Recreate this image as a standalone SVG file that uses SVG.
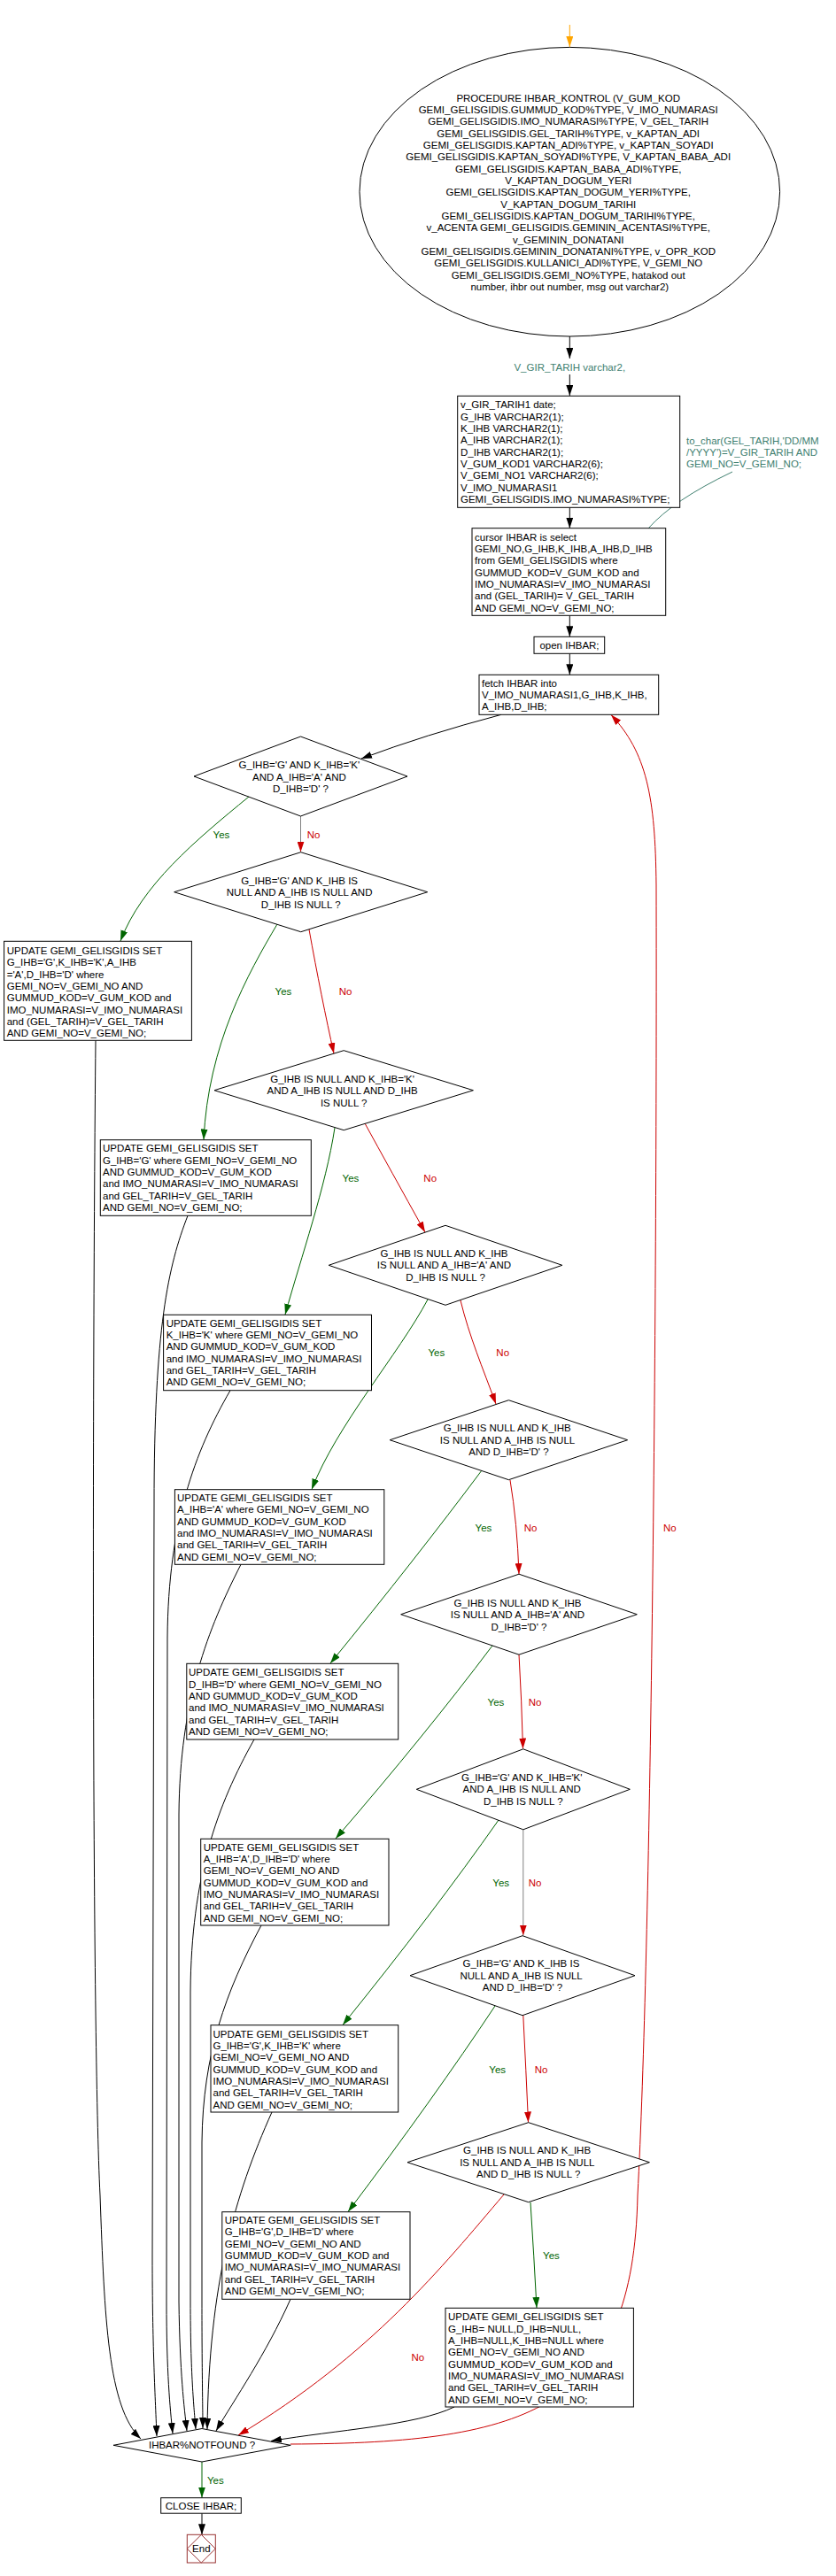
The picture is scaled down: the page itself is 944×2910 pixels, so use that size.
<svg xmlns="http://www.w3.org/2000/svg" width="944" height="2910" viewBox="0 0 944 2910">
<style>
.t{font-family:"Liberation Sans",Arial,sans-serif;font-size:11.5px;fill:#000}
.c{text-anchor:middle}
.tl{fill:#408070}
.box{fill:#fff;stroke:#000;stroke-width:1}
.k{fill:none;stroke:#000;stroke-width:1}
.g{fill:none;stroke:#006400;stroke-width:1}
.r{fill:none;stroke:#CC0000;stroke-width:1}
.gy{fill:none;stroke:#808080;stroke-width:1}
.tm{fill:none;stroke:#408070;stroke-width:1}
.lg{fill:#006400}
.lr{fill:#CC0000}
</style>
<defs>
<marker id="ak" viewBox="0 0 12 8" refX="12" refY="4" markerWidth="12" markerHeight="8" markerUnits="userSpaceOnUse" orient="auto"><path d="M0,0L12,4L0,8z" fill="#000"/></marker>
<marker id="ag" viewBox="0 0 12 8" refX="12" refY="4" markerWidth="12" markerHeight="8" markerUnits="userSpaceOnUse" orient="auto"><path d="M0,0L12,4L0,8z" fill="#006400"/></marker>
<marker id="ar" viewBox="0 0 12 8" refX="12" refY="4" markerWidth="12" markerHeight="8" markerUnits="userSpaceOnUse" orient="auto"><path d="M0,0L12,4L0,8z" fill="#CC0000"/></marker>
<marker id="ao" viewBox="0 0 12 8" refX="12" refY="4" markerWidth="12" markerHeight="8" markerUnits="userSpaceOnUse" orient="auto"><path d="M0,0L12,4L0,8z" fill="#FFA500"/></marker>
</defs>
<rect width="944" height="2910" fill="#fff"/>

<g id="connectors">
<path d="M643.3,28 L643.3,53" fill="none" stroke="#FFA500" marker-end="url(#ao)"/>
<path class="k" d="M643.3,380 L643.3,405" marker-end="url(#ak)"/>
<path class="k" d="M643.3,423 L643.3,447" marker-end="url(#ak)"/>
<path class="k" d="M643.3,573.3 L643.3,596.7" marker-end="url(#ak)"/>
<path class="tm" d="M827,533 Q760,565 732,597"/>
<path class="k" d="M643.3,695.3 L643.3,719.3" marker-end="url(#ak)"/>
<path class="k" d="M643.3,738.3 L643.3,762.3" marker-end="url(#ak)"/>
<path class="k" d="M566,807.3 Q480,830 408,857" marker-end="url(#ak)"/>

<path class="g" d="M281,900 C220,950 160,1000 136,1063" marker-end="url(#ag)"/>
<path class="gy" d="M339.5,922 L339.5,962.5" marker-end="url(#ar)"/>
<path class="g" d="M313,1044 C280,1100 235,1180 230,1287.5" marker-end="url(#ag)"/>
<path class="r" d="M349,1050 C358,1100 368,1150 377,1190" marker-end="url(#ar)"/>
<path class="g" d="M378,1274 C368,1340 340,1420 322,1485" marker-end="url(#ag)"/>
<path class="r" d="M412,1269 Q440,1320 480,1392" marker-end="url(#ar)"/>
<path class="g" d="M483,1468 C450,1530 380,1610 352,1682.5" marker-end="url(#ag)"/>
<path class="r" d="M520,1469 C530,1510 545,1545 560,1586" marker-end="url(#ar)"/>
<path class="g" d="M544,1661 Q470,1760 373,1879" marker-end="url(#ag)"/>
<path class="r" d="M576,1672 Q584,1720 586,1778" marker-end="url(#ar)"/>
<path class="g" d="M556,1859 Q480,1960 379,2077" marker-end="url(#ag)"/>
<path class="r" d="M586,1869 Q589,1920 590.5,1975.5" marker-end="url(#ar)"/>
<path class="g" d="M563,2056 Q490,2160 387,2287.5" marker-end="url(#ag)"/>
<path class="gy" d="M590.8,2067 L590.8,2186.5" marker-end="url(#ar)"/>
<path class="g" d="M559,2266 Q490,2370 393,2498.5" marker-end="url(#ag)"/>
<path class="r" d="M590.8,2277 Q594,2340 596.5,2397.5" marker-end="url(#ar)"/>
<path class="g" d="M599,2488 Q603,2550 606,2607" marker-end="url(#ag)"/>
<path class="r" d="M569,2479 C500,2560 420,2660 269,2751" marker-end="url(#ar)"/>

<path class="k" d="M108,1175.3 C104,1600 104,2300 113,2480 C118,2620 122,2720 159,2755" marker-end="url(#ak)"/>
<path class="k" d="M212,1373.3 C190,1430 174,1500 174,1700 L172,2550 C172,2650 175,2700 177,2752" marker-end="url(#ak)"/>
<path class="k" d="M260,1570.7 C220,1640 190,1720 189,1850 L188,2600 C188,2680 192,2720 195,2749" marker-end="url(#ak)"/>
<path class="k" d="M272,1767.3 C235,1840 203,1920 202,2050 L202,2600 C203,2680 208,2720 211,2746" marker-end="url(#ak)"/>
<path class="k" d="M287,1965 C245,2040 216,2120 215,2250 L215,2600 C215,2680 219,2720 221,2744" marker-end="url(#ak)"/>
<path class="k" d="M295,2175 C255,2250 229,2320 228,2420 L228,2600 C228,2680 229,2720 229,2743" marker-end="url(#ak)"/>
<path class="k" d="M307,2386 C265,2480 236,2580 234,2744" marker-end="url(#ak)"/>
<path class="k" d="M328,2597.3 C300,2660 265,2710 244,2746" marker-end="url(#ak)"/>
<path class="k" d="M513,2719 C470,2740 380,2745 306,2757.5" marker-end="url(#ak)"/>
<path class="r" d="M328,2761 C600,2760 715,2720 720,2480 C735,2200 742,1500 741,1000 C740,900 730,850 690,807.5" marker-end="url(#ar)"/>
<path class="g" d="M228,2781 L228,2821.5" marker-end="url(#ag)"/>
<path class="k" d="M228,2839.2 L228,2863.3" marker-end="url(#ak)"/>

<text class="t lg c" x="250" y="946.7">Yes</text>
<text class="t lr c" x="354" y="946.7">No</text>
<text class="t lg c" x="320" y="1124">Yes</text>
<text class="t lr c" x="390" y="1124">No</text>
<text class="t lg c" x="396" y="1334.7">Yes</text>
<text class="t lr c" x="485.7" y="1334.7">No</text>
<text class="t lg c" x="492.8" y="1531.7">Yes</text>
<text class="t lr c" x="567.7" y="1531.7">No</text>
<text class="t lg c" x="546" y="1730">Yes</text>
<text class="t lr c" x="599" y="1730">No</text>
<text class="t lr c" x="756.4" y="1730">No</text>
<text class="t lg c" x="560" y="1926.7">Yes</text>
<text class="t lr c" x="604" y="1926.7">No</text>
<text class="t lg c" x="565.7" y="2130.7">Yes</text>
<text class="t lr c" x="604" y="2130.7">No</text>
<text class="t lg c" x="561.7" y="2341.7">Yes</text>
<text class="t lr c" x="611" y="2341.7">No</text>
<text class="t lg c" x="622.5" y="2551.7">Yes</text>
<text class="t lr c" x="471.8" y="2667.3">No</text>
<text class="t lg c" x="243.3" y="2805.7">Yes</text>
</g>

<g id="start">
<ellipse class="box" cx="643.3" cy="216.7" rx="237.3" ry="163.3"/>
<text class="t c" y="114.7">
<tspan x="643.3">PROCEDURE IHBAR_KONTROL (V_GUM_KOD</tspan>
<tspan x="643.3" dy="13.33">GEMI_GELISGIDIS.GUMMUD_KOD%TYPE, V_IMO_NUMARASI</tspan>
<tspan x="643.3" dy="13.33">GEMI_GELISGIDIS.IMO_NUMARASI%TYPE, V_GEL_TARIH</tspan>
<tspan x="643.3" dy="13.33">GEMI_GELISGIDIS.GEL_TARIH%TYPE, v_KAPTAN_ADI</tspan>
<tspan x="643.3" dy="13.33">GEMI_GELISGIDIS.KAPTAN_ADI%TYPE, v_KAPTAN_SOYADI</tspan>
<tspan x="643.3" dy="13.33">GEMI_GELISGIDIS.KAPTAN_SOYADI%TYPE, V_KAPTAN_BABA_ADI</tspan>
<tspan x="643.3" dy="13.33">GEMI_GELISGIDIS.KAPTAN_BABA_ADI%TYPE,</tspan>
<tspan x="643.3" dy="13.33">V_KAPTAN_DOGUM_YERI</tspan>
<tspan x="643.3" dy="13.33">GEMI_GELISGIDIS.KAPTAN_DOGUM_YERI%TYPE,</tspan>
<tspan x="643.3" dy="13.33">V_KAPTAN_DOGUM_TARIHI</tspan>
<tspan x="643.3" dy="13.33">GEMI_GELISGIDIS.KAPTAN_DOGUM_TARIHI%TYPE,</tspan>
<tspan x="643.3" dy="13.33">v_ACENTA GEMI_GELISGIDIS.GEMININ_ACENTASI%TYPE,</tspan>
<tspan x="643.3" dy="13.33">v_GEMININ_DONATANI</tspan>
<tspan x="643.3" dy="13.33">GEMI_GELISGIDIS.GEMININ_DONATANI%TYPE, v_OPR_KOD</tspan>
<tspan x="643.3" dy="13.33">GEMI_GELISGIDIS.KULLANICI_ADI%TYPE, V_GEMI_NO</tspan>
<tspan x="643.3" dy="13.33">GEMI_GELISGIDIS.GEMI_NO%TYPE, hatakod  out</tspan>
<tspan x="643.3" dy="13.33">number, ihbr  out number, msg out varchar2)</tspan>
</text>
</g>

<g id="label-gir-tarih">
<text class="t tl c" x="643.3" y="419">V_GIR_TARIH varchar2,</text>
</g>

<g id="declare">
<rect class="box" x="516.7" y="447.3" width="251" height="126"/>
<text class="t" y="461.3">
<tspan x="520">v_GIR_TARIH1 date;</tspan>
<tspan x="520" dy="13.33">G_IHB VARCHAR2(1);</tspan>
<tspan x="520" dy="13.33">K_IHB VARCHAR2(1);</tspan>
<tspan x="520" dy="13.33">A_IHB VARCHAR2(1);</tspan>
<tspan x="520" dy="13.33">D_IHB VARCHAR2(1);</tspan>
<tspan x="520" dy="13.33">V_GUM_KOD1 VARCHAR2(6);</tspan>
<tspan x="520" dy="13.33">V_GEMI_NO1 VARCHAR2(6);</tspan>
<tspan x="520" dy="13.33">V_IMO_NUMARASI1</tspan>
<tspan x="520" dy="13.33">GEMI_GELISGIDIS.IMO_NUMARASI%TYPE;</tspan>
</text>
</g>

<g id="comment">
<text class="t tl" y="501.7">
<tspan x="775">to_char(GEL_TARIH,'DD/MM</tspan>
<tspan x="775" dy="13.33">/YYYY')=V_GIR_TARIH AND</tspan>
<tspan x="775" dy="13.33">GEMI_NO=V_GEMI_NO;</tspan>
</text>
</g>

<g id="cursor">
<rect class="box" x="533" y="596.7" width="218.7" height="98.6"/>
<text class="t" y="610.7">
<tspan x="536">cursor IHBAR is select</tspan>
<tspan x="536" dy="13.33">GEMI_NO,G_IHB,K_IHB,A_IHB,D_IHB</tspan>
<tspan x="536" dy="13.33">from GEMI_GELISGIDIS where</tspan>
<tspan x="536" dy="13.33">GUMMUD_KOD=V_GUM_KOD and</tspan>
<tspan x="536" dy="13.33">IMO_NUMARASI=V_IMO_NUMARASI</tspan>
<tspan x="536" dy="13.33">and (GEL_TARIH)= V_GEL_TARIH</tspan>
<tspan x="536" dy="13.33">AND GEMI_NO=V_GEMI_NO;</tspan>
</text>
</g>

<g id="open">
<rect class="box" x="603" y="719.3" width="79.7" height="19"/>
<text class="t c" x="643" y="733">open IHBAR;</text>
</g>

<g id="fetch">
<rect class="box" x="541" y="762.3" width="202.7" height="45"/>
<text class="t" y="775.7">
<tspan x="544">fetch IHBAR into</tspan>
<tspan x="544" dy="13.33">V_IMO_NUMARASI1,G_IHB,K_IHB,</tspan>
<tspan x="544" dy="13.33">A_IHB,D_IHB;</tspan>
</text>
</g>

<g id="d1">
<polygon class="box" points="339.5,832 460,877 339.5,922 219,877"/>
<text class="t c" y="868">
<tspan x="339.5">G_IHB='G' AND K_IHB='K'</tspan>
<tspan x="339.5" dy="13.5">AND A_IHB='A' AND</tspan>
<tspan x="339.5" dy="13.5">D_IHB='D' ?</tspan>
</text>
</g>

<g id="d2">
<polygon class="box" points="339.7,962.7 482.7,1007.7 339.7,1052.7 196.7,1007.7"/>
<text class="t c" y="998.7">
<tspan x="339.7">G_IHB='G' AND K_IHB IS</tspan>
<tspan x="339.7" dy="13.4">NULL AND A_IHB IS NULL AND</tspan>
<tspan x="339.7" dy="13.4">D_IHB IS NULL ?</tspan>
</text>
</g>

<g id="u1">
<rect class="box" x="4.6" y="1063.3" width="211.8" height="112"/>
<text class="t" y="1078">
<tspan x="7.7">UPDATE GEMI_GELISGIDIS SET</tspan>
<tspan x="7.7" dy="13.33">G_IHB='G',K_IHB='K',A_IHB</tspan>
<tspan x="7.7" dy="13.33">='A',D_IHB='D' where</tspan>
<tspan x="7.7" dy="13.33">GEMI_NO=V_GEMI_NO AND</tspan>
<tspan x="7.7" dy="13.33">GUMMUD_KOD=V_GUM_KOD and</tspan>
<tspan x="7.7" dy="13.33">IMO_NUMARASI=V_IMO_NUMARASI</tspan>
<tspan x="7.7" dy="13.33">and (GEL_TARIH)=V_GEL_TARIH</tspan>
<tspan x="7.7" dy="13.33">AND GEMI_NO=V_GEMI_NO;</tspan>
</text>
</g>

<g id="d3">
<polygon class="box" points="388.2,1186.7 534.4,1231.7 388.2,1276.7 242,1231.7"/>
<text class="t c" y="1222.7">
<tspan x="388.2">G_IHB IS NULL  AND K_IHB='K'</tspan>
<tspan x="388.2" dy="13.4">AND A_IHB IS NULL AND D_IHB</tspan>
<tspan x="388.2" dy="13.4">IS NULL ?</tspan>
</text>
</g>

<g id="u2">
<rect class="box" x="113.3" y="1287.7" width="238" height="85.6"/>
<text class="t" y="1301.3">
<tspan x="116">UPDATE GEMI_GELISGIDIS SET</tspan>
<tspan x="116" dy="13.33">G_IHB='G' where GEMI_NO=V_GEMI_NO</tspan>
<tspan x="116" dy="13.33">AND GUMMUD_KOD=V_GUM_KOD</tspan>
<tspan x="116" dy="13.33">and IMO_NUMARASI=V_IMO_NUMARASI</tspan>
<tspan x="116" dy="13.33">and GEL_TARIH=V_GEL_TARIH</tspan>
<tspan x="116" dy="13.33">AND GEMI_NO=V_GEMI_NO;</tspan>
</text>
</g>

<g id="d4">
<polygon class="box" points="503,1384.3 634.8,1429.3 503,1474.3 371.2,1429.3"/>
<text class="t c" y="1419.7">
<tspan x="503">G_IHB IS NULL AND K_IHB</tspan>
<tspan x="503" dy="13.4">IS NULL AND A_IHB='A' AND</tspan>
<tspan x="503" dy="13.4">D_IHB IS NULL ?</tspan>
</text>
</g>

<g id="u3">
<rect class="box" x="184.6" y="1485.3" width="234.9" height="85.4"/>
<text class="t" y="1498.7">
<tspan x="187.7">UPDATE GEMI_GELISGIDIS SET</tspan>
<tspan x="187.7" dy="13.33">K_IHB='K' where GEMI_NO=V_GEMI_NO</tspan>
<tspan x="187.7" dy="13.33">AND GUMMUD_KOD=V_GUM_KOD</tspan>
<tspan x="187.7" dy="13.33">and IMO_NUMARASI=V_IMO_NUMARASI</tspan>
<tspan x="187.7" dy="13.33">and GEL_TARIH=V_GEL_TARIH</tspan>
<tspan x="187.7" dy="13.33">AND GEMI_NO=V_GEMI_NO;</tspan>
</text>
</g>

<g id="d5">
<polygon class="box" points="574.4,1581.7 708.6,1626.7 574.4,1671.7 440.2,1626.7"/>
<text class="t c" y="1617.3">
<tspan x="574.4">G_IHB IS NULL AND K_IHB</tspan>
<tspan x="574.4" dy="13.4">IS NULL AND A_IHB IS NULL</tspan>
<tspan x="574.4" dy="13.4">AND D_IHB='D' ?</tspan>
</text>
</g>

<g id="u4">
<rect class="box" x="197.4" y="1682.7" width="236.4" height="84.6"/>
<text class="t" y="1696">
<tspan x="200">UPDATE GEMI_GELISGIDIS SET</tspan>
<tspan x="200" dy="13.33">A_IHB='A' where GEMI_NO=V_GEMI_NO</tspan>
<tspan x="200" dy="13.33">AND GUMMUD_KOD=V_GUM_KOD</tspan>
<tspan x="200" dy="13.33">and IMO_NUMARASI=V_IMO_NUMARASI</tspan>
<tspan x="200" dy="13.33">and GEL_TARIH=V_GEL_TARIH</tspan>
<tspan x="200" dy="13.33">AND GEMI_NO=V_GEMI_NO;</tspan>
</text>
</g>

<g id="d6">
<polygon class="box" points="586,1778.2 719.3,1823.7 586,1869.2 452.7,1823.7"/>
<text class="t c" y="1814.7">
<tspan x="586">G_IHB IS NULL AND K_IHB</tspan>
<tspan x="586" dy="13.4">IS NULL AND A_IHB='A' AND</tspan>
<tspan x="586" dy="13.4">D_IHB='D' ?</tspan>
</text>
</g>

<g id="u5">
<rect class="box" x="210.8" y="1879.3" width="238.9" height="85.7"/>
<text class="t" y="1893.3">
<tspan x="213">UPDATE GEMI_GELISGIDIS SET</tspan>
<tspan x="213" dy="13.33">D_IHB='D' where GEMI_NO=V_GEMI_NO</tspan>
<tspan x="213" dy="13.33">AND GUMMUD_KOD=V_GUM_KOD</tspan>
<tspan x="213" dy="13.33">and IMO_NUMARASI=V_IMO_NUMARASI</tspan>
<tspan x="213" dy="13.33">and GEL_TARIH=V_GEL_TARIH</tspan>
<tspan x="213" dy="13.33">AND GEMI_NO=V_GEMI_NO;</tspan>
</text>
</g>

<g id="d7">
<polygon class="box" points="590.8,1975.8 711.3,2021.3 590.8,2066.8 470.3,2021.3"/>
<text class="t c" y="2011.7">
<tspan x="590.8">G_IHB='G' AND K_IHB='K'</tspan>
<tspan x="590.8" dy="13.4">AND A_IHB IS NULL  AND</tspan>
<tspan x="590.8" dy="13.4">D_IHB IS NULL ?</tspan>
</text>
</g>

<g id="u6">
<rect class="box" x="226.7" y="2077.3" width="212.3" height="97.7"/>
<text class="t" y="2090.7">
<tspan x="229.7">UPDATE GEMI_GELISGIDIS SET</tspan>
<tspan x="229.7" dy="13.33">A_IHB='A',D_IHB='D' where</tspan>
<tspan x="229.7" dy="13.33">GEMI_NO=V_GEMI_NO AND</tspan>
<tspan x="229.7" dy="13.33">GUMMUD_KOD=V_GUM_KOD and</tspan>
<tspan x="229.7" dy="13.33">IMO_NUMARASI=V_IMO_NUMARASI</tspan>
<tspan x="229.7" dy="13.33">and GEL_TARIH=V_GEL_TARIH</tspan>
<tspan x="229.7" dy="13.33">AND GEMI_NO=V_GEMI_NO;</tspan>
</text>
</g>

<g id="d8">
<polygon class="box" points="590,2186.7 717,2231.7 590,2276.7 463,2231.7"/>
<text class="t c" y="2222.3">
<tspan x="590">G_IHB='G' AND K_IHB IS</tspan>
<tspan x="590" dy="13.4">NULL  AND A_IHB IS NULL</tspan>
<tspan x="590" dy="13.4">AND D_IHB='D' ?</tspan>
</text>
</g>

<g id="u7">
<rect class="box" x="238" y="2287.7" width="211.7" height="98.3"/>
<text class="t" y="2301.7">
<tspan x="240.5">UPDATE GEMI_GELISGIDIS SET</tspan>
<tspan x="240.5" dy="13.33">G_IHB='G',K_IHB='K' where</tspan>
<tspan x="240.5" dy="13.33">GEMI_NO=V_GEMI_NO AND</tspan>
<tspan x="240.5" dy="13.33">GUMMUD_KOD=V_GUM_KOD and</tspan>
<tspan x="240.5" dy="13.33">IMO_NUMARASI=V_IMO_NUMARASI</tspan>
<tspan x="240.5" dy="13.33">and GEL_TARIH=V_GEL_TARIH</tspan>
<tspan x="240.5" dy="13.33">AND GEMI_NO=V_GEMI_NO;</tspan>
</text>
</g>

<g id="d9">
<polygon class="box" points="596.7,2397.7 733.4,2442.7 596.7,2487.7 460,2442.7"/>
<text class="t c" y="2433.3">
<tspan x="596.7">G_IHB IS NULL  AND K_IHB</tspan>
<tspan x="596.7" dy="13.4">IS NULL  AND A_IHB IS NULL</tspan>
<tspan x="596.7" dy="13.4">AND D_IHB IS NULL ?</tspan>
</text>
</g>

<g id="u8">
<rect class="box" x="250.8" y="2498.7" width="212.2" height="98.6"/>
<text class="t" y="2512">
<tspan x="253.8">UPDATE GEMI_GELISGIDIS SET</tspan>
<tspan x="253.8" dy="13.33">G_IHB='G',D_IHB='D' where</tspan>
<tspan x="253.8" dy="13.33">GEMI_NO=V_GEMI_NO AND</tspan>
<tspan x="253.8" dy="13.33">GUMMUD_KOD=V_GUM_KOD and</tspan>
<tspan x="253.8" dy="13.33">IMO_NUMARASI=V_IMO_NUMARASI</tspan>
<tspan x="253.8" dy="13.33">and GEL_TARIH=V_GEL_TARIH</tspan>
<tspan x="253.8" dy="13.33">AND GEMI_NO=V_GEMI_NO;</tspan>
</text>
</g>

<g id="u9">
<rect class="box" x="503" y="2607.3" width="212.4" height="111.7"/>
<text class="t" y="2621.3">
<tspan x="506">UPDATE GEMI_GELISGIDIS SET</tspan>
<tspan x="506" dy="13.33">G_IHB= NULL,D_IHB=NULL,</tspan>
<tspan x="506" dy="13.33">A_IHB=NULL,K_IHB=NULL where</tspan>
<tspan x="506" dy="13.33">GEMI_NO=V_GEMI_NO AND</tspan>
<tspan x="506" dy="13.33">GUMMUD_KOD=V_GUM_KOD and</tspan>
<tspan x="506" dy="13.33">IMO_NUMARASI=V_IMO_NUMARASI</tspan>
<tspan x="506" dy="13.33">and GEL_TARIH=V_GEL_TARIH</tspan>
<tspan x="506" dy="13.33">AND GEMI_NO=V_GEMI_NO;</tspan>
</text>
</g>

<g id="notfound">
<polygon class="box" points="228,2743.5 328.2,2762.3 228,2781 128,2762.3"/>
<text class="t c" x="228" y="2766.3">IHBAR%NOTFOUND ?</text>
</g>

<g id="close">
<rect class="box" x="181.7" y="2821.7" width="90.6" height="17.5"/>
<text class="t c" x="227" y="2834.5">CLOSE IHBAR;</text>
</g>

<g id="end">
<rect x="211.3" y="2863.3" width="32" height="31.7" fill="#fff" stroke="#993333"/>
<polygon points="227.3,2863.3 243.3,2879.2 227.3,2895 211.3,2879.2" fill="none" stroke="#993333"/>
<text class="t c" x="227.3" y="2883">End</text>
</g>
</svg>
